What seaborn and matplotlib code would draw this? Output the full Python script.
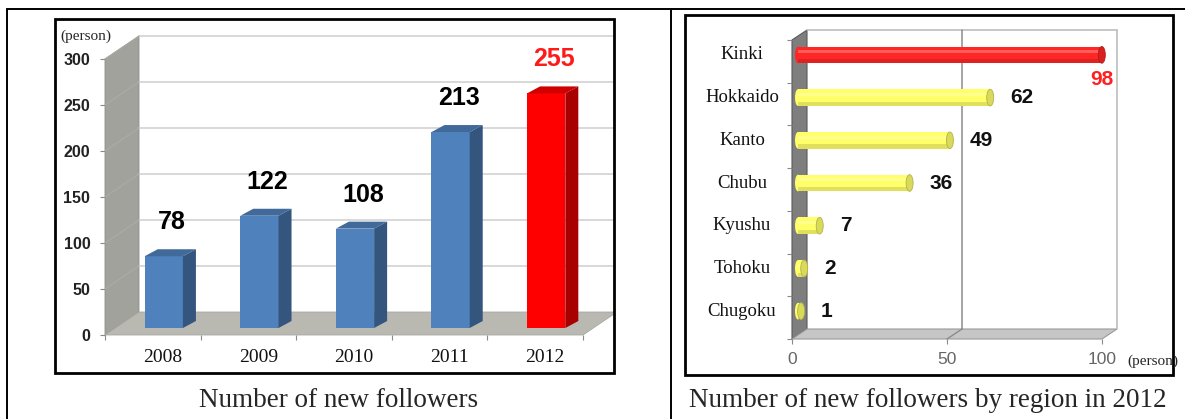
import numpy as np
import pandas as pd
import matplotlib
matplotlib.use('Agg')
import matplotlib.pyplot as plt
import seaborn as sns
from matplotlib.patches import Polygon, Rectangle, Ellipse
from matplotlib.lines import Line2D
from matplotlib.transforms import ScaledTranslation, IdentityTransform, Bbox

# data
YEARS = ['2008', '2009', '2010', '2011', '2012']
FOLLOWERS = [78, 122, 108, 213, 255]
Y_TICKS = [0, 50, 100, 150, 200, 250, 300]

REGIONS = ['Kinki', 'Hokkaido', 'Kanto', 'Chubu', 'Kyushu', 'Tohoku', 'Chugoku']
REGION_FOLLOWERS = [98, 62, 49, 36, 7, 2, 1]
X_TICKS = [0, 50, 100]

W, H, DPI = 1185, 419, 100
SERIF = ['Liberation Serif', 'DejaVu Serif']

sns.set_theme(style='white')
plt.rcParams['font.family'] = ['Liberation Sans', 'DejaVu Sans']

fig = plt.figure(figsize=(W / DPI, H / DPI), dpi=DPI)
fig.patch.set_facecolor('white')


def fbox(x0, y0, x1, y1):
    """pixel box (origin top-left) -> figure fractions"""
    return [x0 / W, 1 - y1 / H, (x1 - x0) / W, (y1 - y0) / H]


def fpt(x, y):
    return x / W, 1 - y / H


def shift(dx, dy):
    """offset in image pixels (dy positive = down)"""
    return ScaledTranslation(dx / DPI, -dy / DPI, fig.dpi_scale_trans)


def disp(ax, x, y, dx=0, dy=0):
    px, py = ax.transData.transform((x, y))
    return (px + dx, py - dy)


def deco(ax, artist, clip=None):
    ax.add_artist(artist)
    artist.set_clip_path(None)
    if clip is None:
        artist.set_clip_on(False)
    else:
        artist.set_clip_box(clip)
    return artist


def darker(color, f):
    r, g, b = matplotlib.colors.to_rgb(color)
    return (r * f, g * f, b * f)


ID = IdentityTransform()

# ---------------------------------------------------------------------------
# table frame + chart boxes
# ---------------------------------------------------------------------------
for (x0, y0, x1, y1) in [(7, 9, 1185, 9), (7, 9, 7, 419), (671, 9, 671, 419)]:
    fig.add_artist(Line2D([x0 / W, x1 / W], [1 - y0 / H, 1 - y1 / H],
                          transform=fig.transFigure, color='black', lw=1.4))
for (x0, y0, x1, y1) in [(55, 19, 614, 373), (685, 15, 1173, 375)]:
    fig.add_artist(Rectangle(fpt(x0, y1), (x1 - x0) / W, (y1 - y0) / H,
                             transform=fig.transFigure, fill=False,
                             edgecolor='black', lw=2))

# ---------------------------------------------------------------------------
# Left: Number of new followers (3D columns)
# ---------------------------------------------------------------------------
axL = fig.add_axes(fbox(105, 59, 583, 335))
df_years = pd.DataFrame({'year': YEARS, 'followers': FOLLOWERS})
col_colors = ['#4f81bd'] * 4 + ['#ff0000']
sns.barplot(data=df_years, x='year', y='followers', hue='year',
            palette=col_colors, legend=False, width=0.40, saturation=1, ax=axL)
axL.set_xlim(-0.5, 4.5)
axL.set_ylim(0, 300)
axL.patch.set_visible(False)
sns.despine(ax=axL, left=True, bottom=True)
axL.set_xlabel('')
axL.set_ylabel('')

boxL = Bbox.from_extents(56, H - 372, 613, H - 20)
WD = (34, -23)   # wall depth in px
BD = (11, -7)    # bar front offset
BS = (13, -7)    # bar depth

# side wall, floor, back gridlines
deco(axL, Polygon([disp(axL, -0.5, 0), disp(axL, -0.5, 300),
                   disp(axL, -0.5, 300, *WD), disp(axL, -0.5, 0, *WD)],
                  transform=ID, facecolor='#a2a29c', edgecolor='#8e8e88',
                  lw=0.6, zorder=0.5))
deco(axL, Polygon([disp(axL, -0.5, 0), disp(axL, 4.5, 0),
                   disp(axL, 4.5, 0, *WD), disp(axL, -0.5, 0, *WD)],
                  transform=ID, facecolor='#b9b9b2', edgecolor='#a8a8a2',
                  lw=0.6, zorder=0.5), clip=boxL)
for v in Y_TICKS[1:]:
    a, b = disp(axL, -0.5, v, *WD), disp(axL, 4.5, v, *WD)
    deco(axL, Line2D([a[0], b[0] + 40], [a[1], b[1]], transform=ID,
                     color='#d2d2d2', lw=1.2, zorder=0.6), clip=boxL)
    a, b = disp(axL, -0.5, v), disp(axL, -0.5, v, *WD)
    deco(axL, Line2D([a[0], b[0]], [a[1], b[1]], transform=ID,
                     color='#acaca6', lw=0.8, zorder=0.6))

# columns: shift front faces and add top and side faces
for p in axL.patches[:len(YEARS)]:
    p.set_transform(axL.transData + shift(*BD))
    p.set_edgecolor('none')
    p.set_clip_on(False)
    p.set_zorder(3)
    x0, w, h = p.get_x(), p.get_width(), p.get_height()
    fc = p.get_facecolor()
    f0 = disp(axL, x0, h, *BD)
    f1 = disp(axL, x0 + w, h, *BD)
    b1 = disp(axL, x0 + w, 0, *BD)
    top = [f0, f1, (f1[0] + BS[0], f1[1] - BS[1]), (f0[0] + BS[0], f0[1] - BS[1])]
    side = [b1, f1, (f1[0] + BS[0], f1[1] - BS[1]), (b1[0] + BS[0], b1[1] - BS[1])]
    deco(axL, Polygon(top, transform=ID, facecolor=darker(fc, 0.82),
                      edgecolor='none', zorder=3))
    deco(axL, Polygon(side, transform=ID, facecolor=darker(fc, 0.66),
                      edgecolor='none', zorder=3))

for i, (year, v) in enumerate(zip(YEARS, FOLLOWERS)):
    color = '#ff1a1a' if i == len(YEARS) - 1 else 'black'
    axL.annotate(str(v), (i, v), xytext=(19, 29), textcoords='offset pixels',
                 ha='center', va='bottom', fontsize=18, fontweight='bold',
                 color=color, zorder=5, annotation_clip=False)
    axL.text(i, 0, year, transform=axL.transData + shift(10, 22),
             ha='center', va='center', fontsize=14, family=SERIF, color='#111111')

axL.set_yticks(Y_TICKS)
axL.set_yticklabels([str(t) for t in Y_TICKS], fontsize=11.5,
                    fontweight='bold', color='#222222')
axL.set_xticks(range(len(YEARS)))
axL.set_xticklabels([])
axL.set_xticks(np.arange(-0.5, len(YEARS), 1.0), minor=True)
axL.tick_params(axis='y', which='major', left=True, length=3.6, width=0.8,
                color='#8a8a8a', pad=7)
axL.tick_params(axis='x', which='major', bottom=False, length=0)
axL.tick_params(axis='x', which='minor', bottom=True, length=3.6, width=0.8,
                color='#8a8a8a')
fig.text(*fpt(60, 36), '(person)', ha='left', va='center', fontsize=11,
         family=SERIF)

# ---------------------------------------------------------------------------
# Right: Number of new followers by region in 2012 (cylinders)
# ---------------------------------------------------------------------------
axR = fig.add_axes(fbox(792, 40, 1102, 339))
df_reg = pd.DataFrame({'region': REGIONS, 'followers': REGION_FOLLOWERS})
reg_colors = ['#ff2626'] + ['#ffff6a'] * (len(REGIONS) - 1)
sns.barplot(data=df_reg, y='region', x='followers', hue='region', orient='h',
            palette=reg_colors, legend=False, width=0.39, saturation=1, ax=axR)
axR.set_xlim(0, 100)
axR.set_ylim(len(REGIONS) - 0.5, -0.5)
axR.patch.set_visible(False)
sns.despine(ax=axR, left=True, bottom=True)
axR.set_xlabel('')
axR.set_ylabel('')

RD = (15, -10)   # wall depth
RB = (6, -6.5)   # bar offset
ylo, yhi = len(REGIONS) - 0.5, -0.5

deco(axR, Polygon([disp(axR, 0, ylo), disp(axR, 0, yhi),
                   disp(axR, 0, yhi, *RD), disp(axR, 0, ylo, *RD)],
                  transform=ID, facecolor='#7e7e7e', edgecolor='#5a5a5a',
                  lw=0.8, zorder=0.5))
deco(axR, Polygon([disp(axR, 0, ylo), disp(axR, 100, ylo),
                   disp(axR, 100, ylo, *RD), disp(axR, 0, ylo, *RD)],
                  transform=ID, facecolor='#c6c6c6', edgecolor='#9a9a9a',
                  lw=0.8, zorder=0.5))
for (xa, ya, xb, yb, c) in [(0, yhi, 100, yhi, '#b8b8b8'),
                            (100, yhi, 100, ylo, '#b8b8b8'),
                            (50, yhi, 50, ylo, '#8c8c8c')]:
    a, b = disp(axR, xa, ya, *RD), disp(axR, xb, yb, *RD)
    deco(axR, Line2D([a[0], b[0]], [a[1], b[1]], transform=ID, color=c,
                     lw=1.1, zorder=0.6))
a, b = disp(axR, 50, ylo), disp(axR, 50, ylo, *RD)
deco(axR, Line2D([a[0], b[0]], [a[1], b[1]], transform=ID, color='#8c8c8c',
                 lw=1.0, zorder=0.6))

for p in axR.patches[:len(REGIONS)]:
    p.set_transform(axR.transData + shift(*RB))
    p.set_edgecolor('none')
    p.set_clip_on(False)
    p.set_zorder(3)
    fc = p.get_facecolor()
    x0, y0 = p.get_x(), p.get_y()
    w, h = p.get_width(), p.get_height()
    l_top = disp(axR, x0, y0, *RB)
    r_bot = disp(axR, x0 + w, y0 + h, *RB)
    hpx = l_top[1] - r_bot[1]
    cy = (l_top[1] + r_bot[1]) / 2
    length = r_bot[0] - l_top[0]
    # shading bands to suggest a cylinder
    deco(axR, Rectangle((l_top[0], l_top[1] - hpx * 0.40), length, hpx * 0.18,
                        transform=ID, facecolor='white', alpha=0.25,
                        edgecolor='none', zorder=3.1))
    deco(axR, Rectangle((l_top[0], r_bot[1]), length, hpx * 0.25,
                        transform=ID, facecolor=darker(fc, 0.8), alpha=0.6,
                        edgecolor='none', zorder=3.1))
    deco(axR, Ellipse((l_top[0], cy), 6, hpx, transform=ID, facecolor=fc,
                      edgecolor='none', zorder=2.9))
    deco(axR, Ellipse((r_bot[0], cy), 7, hpx, transform=ID,
                      facecolor=darker(fc, 0.85), edgecolor=darker(fc, 0.7),
                      lw=0.6, zorder=3.2))

for i, (region, v) in enumerate(zip(REGIONS, REGION_FOLLOWERS)):
    if i == 0:
        axR.annotate(str(v), (v, i), xytext=(6, -18.5), textcoords='offset pixels',
                     ha='center', va='center', fontsize=15, fontweight='bold',
                     color='#ff2020', zorder=5, annotation_clip=False)
    else:
        axR.annotate(str(v), (v, i), xytext=(26, 6.5), textcoords='offset pixels',
                     ha='left', va='center', fontsize=15, fontweight='bold',
                     color='#111111', zorder=5, annotation_clip=False)
    axR.text(0, i, region, transform=axR.transData + shift(-50, -6.5),
             ha='center', va='center', fontsize=13.5, family=SERIF,
             color='#111111')

axR.set_xticks(X_TICKS)
axR.set_xticklabels([str(t) for t in X_TICKS], fontsize=12.5, color='#666666')
axR.set_yticks(range(len(REGIONS)))
axR.set_yticklabels([])
axR.set_yticks(np.arange(-0.5, len(REGIONS), 1.0), minor=True)
axR.tick_params(axis='x', which='major', bottom=True, length=3.6, width=0.8,
                color='#8a8a8a', pad=6)
axR.tick_params(axis='y', which='major', left=False, length=0)
axR.tick_params(axis='y', which='minor', left=True, length=3.6, width=0.8,
                color='#8a8a8a')
fig.text(*fpt(1127, 361), '(person)', ha='left', va='center', fontsize=11,
         family=SERIF)

# captions
fig.text(*fpt(339, 407), 'Number of new followers', ha='center',
         va='baseline', fontsize=19.5, family=SERIF)
fig.text(*fpt(928, 407), 'Number of new followers by region in 2012',
         ha='center', va='baseline', fontsize=19.5, family=SERIF)

fig.savefig('out.png', dpi=DPI)
